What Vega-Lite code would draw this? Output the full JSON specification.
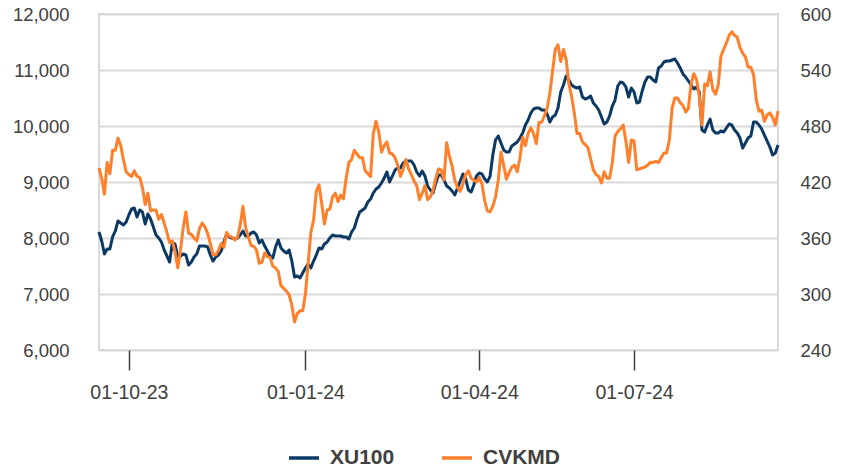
{
  "$schema": "https://vega.github.io/schema/vega-lite/v6.json",
  "width": 679,
  "height": 336,
  "autosize": {"type": "none"},
  "padding": {"left": 99, "top": 14, "right": 63, "bottom": 119},
  "background": "white",
  "config": {
    "font": "Liberation Sans",
    "view": {"stroke": "#d9d9d9", "strokeWidth": 2},
    "axis": {"labelFont": "Liberation Sans", "labelFontSize": 18.5, "labelColor": "#404040", "title": null},
    "legend": {"labelFont": "Liberation Sans", "padding": 0}
  },
  "data": {"values": [
    {"d":"2023-09-15","xu":8107,"cv":435},{"d":"2023-09-18","xu":7946,"cv":424},{"d":"2023-09-19","xu":7714,"cv":407},{"d":"2023-09-20","xu":7804,"cv":441},{"d":"2023-09-21","xu":7804,"cv":429},{"d":"2023-09-22","xu":8018,"cv":454},{"d":"2023-09-25","xu":8125,"cv":454},{"d":"2023-09-26","xu":8304,"cv":467},{"d":"2023-09-27","xu":8268,"cv":459},{"d":"2023-09-28","xu":8232,"cv":444},{"d":"2023-09-29","xu":8286,"cv":431},
    {"d":"2023-10-02","xu":8411,"cv":428},{"d":"2023-10-03","xu":8518,"cv":426},{"d":"2023-10-04","xu":8536,"cv":432},{"d":"2023-10-05","xu":8375,"cv":426},{"d":"2023-10-06","xu":8500,"cv":425},{"d":"2023-10-09","xu":8464,"cv":414},{"d":"2023-10-10","xu":8250,"cv":396},{"d":"2023-10-11","xu":8429,"cv":408},{"d":"2023-10-12","xu":8339,"cv":389},{"d":"2023-10-13","xu":8196,"cv":390},{"d":"2023-10-16","xu":8054,"cv":390},{"d":"2023-10-17","xu":8000,"cv":380},{"d":"2023-10-18","xu":7929,"cv":385},{"d":"2023-10-19","xu":7786,"cv":376},{"d":"2023-10-20","xu":7679,"cv":366},{"d":"2023-10-23","xu":7571,"cv":355},{"d":"2023-10-24","xu":7911,"cv":357},{"d":"2023-10-25","xu":7893,"cv":345},{"d":"2023-10-26","xu":7661,"cv":328},{"d":"2023-10-27","xu":7679,"cv":347},{"d":"2023-10-30","xu":7714,"cv":371},{"d":"2023-10-31","xu":7696,"cv":388},
    {"d":"2023-11-01","xu":7518,"cv":365},{"d":"2023-11-02","xu":7571,"cv":364},{"d":"2023-11-03","xu":7661,"cv":360},{"d":"2023-11-06","xu":7714,"cv":357},{"d":"2023-11-07","xu":7857,"cv":370},{"d":"2023-11-08","xu":7857,"cv":376},{"d":"2023-11-09","xu":7857,"cv":372},{"d":"2023-11-10","xu":7839,"cv":365},{"d":"2023-11-13","xu":7696,"cv":354},{"d":"2023-11-14","xu":7589,"cv":342},{"d":"2023-11-15","xu":7661,"cv":342},{"d":"2023-11-16","xu":7696,"cv":347},{"d":"2023-11-17","xu":7768,"cv":354},{"d":"2023-11-20","xu":7929,"cv":350},{"d":"2023-11-21","xu":8071,"cv":366},{"d":"2023-11-22","xu":8018,"cv":362},{"d":"2023-11-23","xu":8000,"cv":361},{"d":"2023-11-24","xu":7982,"cv":358},{"d":"2023-11-27","xu":8000,"cv":361},{"d":"2023-11-28","xu":8054,"cv":374},{"d":"2023-11-29","xu":8125,"cv":394},{"d":"2023-11-30","xu":8036,"cv":371},
    {"d":"2023-12-01","xu":8036,"cv":361},{"d":"2023-12-04","xu":8089,"cv":352},{"d":"2023-12-05","xu":8107,"cv":351},{"d":"2023-12-06","xu":8054,"cv":347},{"d":"2023-12-07","xu":7911,"cv":333},{"d":"2023-12-08","xu":7964,"cv":334},{"d":"2023-12-11","xu":7857,"cv":344},{"d":"2023-12-12","xu":7768,"cv":340},{"d":"2023-12-13","xu":7679,"cv":339},{"d":"2023-12-14","xu":7643,"cv":330},{"d":"2023-12-15","xu":7839,"cv":328},{"d":"2023-12-18","xu":7964,"cv":324},{"d":"2023-12-19","xu":7821,"cv":309},{"d":"2023-12-20","xu":7768,"cv":306},{"d":"2023-12-21","xu":7732,"cv":303},{"d":"2023-12-22","xu":7786,"cv":299},{"d":"2023-12-25","xu":7589,"cv":288},{"d":"2023-12-26","xu":7304,"cv":270},{"d":"2023-12-27","xu":7321,"cv":279},{"d":"2023-12-28","xu":7286,"cv":282},{"d":"2023-12-29","xu":7375,"cv":282},
    {"d":"2024-01-02","xu":7464,"cv":300},{"d":"2024-01-03","xu":7536,"cv":333},{"d":"2024-01-04","xu":7464,"cv":366},{"d":"2024-01-05","xu":7589,"cv":379},{"d":"2024-01-08","xu":7696,"cv":410},{"d":"2024-01-09","xu":7821,"cv":417},{"d":"2024-01-10","xu":7804,"cv":397},{"d":"2024-01-11","xu":7893,"cv":375},{"d":"2024-01-12","xu":7929,"cv":390},{"d":"2024-01-15","xu":8000,"cv":391},{"d":"2024-01-16","xu":8054,"cv":404},{"d":"2024-01-17","xu":8036,"cv":408},{"d":"2024-01-18","xu":8036,"cv":399},{"d":"2024-01-19","xu":8036,"cv":406},{"d":"2024-01-22","xu":8018,"cv":402},{"d":"2024-01-23","xu":8018,"cv":424},{"d":"2024-01-24","xu":7982,"cv":441},{"d":"2024-01-25","xu":8107,"cv":444},{"d":"2024-01-26","xu":8179,"cv":454},{"d":"2024-01-29","xu":8339,"cv":450},{"d":"2024-01-30","xu":8464,"cv":446},{"d":"2024-01-31","xu":8500,"cv":446},
    {"d":"2024-02-01","xu":8536,"cv":432},{"d":"2024-02-02","xu":8643,"cv":429},{"d":"2024-02-05","xu":8696,"cv":426},{"d":"2024-02-06","xu":8804,"cv":472},{"d":"2024-02-07","xu":8875,"cv":485},{"d":"2024-02-08","xu":8911,"cv":474},{"d":"2024-02-09","xu":8982,"cv":452},{"d":"2024-02-12","xu":9071,"cv":459},{"d":"2024-02-13","xu":9179,"cv":463},{"d":"2024-02-14","xu":9000,"cv":451},{"d":"2024-02-15","xu":9107,"cv":450},{"d":"2024-02-16","xu":9214,"cv":446},{"d":"2024-02-19","xu":9250,"cv":438},{"d":"2024-02-20","xu":9250,"cv":426},{"d":"2024-02-21","xu":9339,"cv":434},{"d":"2024-02-22","xu":9375,"cv":444},{"d":"2024-02-23","xu":9375,"cv":434},{"d":"2024-02-26","xu":9375,"cv":428},{"d":"2024-02-27","xu":9304,"cv":421},{"d":"2024-02-28","xu":9179,"cv":416},{"d":"2024-02-29","xu":9107,"cv":401},
    {"d":"2024-03-01","xu":9196,"cv":408},{"d":"2024-03-04","xu":9107,"cv":416},{"d":"2024-03-05","xu":8929,"cv":401},{"d":"2024-03-06","xu":8857,"cv":404},{"d":"2024-03-07","xu":8804,"cv":411},{"d":"2024-03-08","xu":8982,"cv":424},{"d":"2024-03-11","xu":9125,"cv":434},{"d":"2024-03-12","xu":9125,"cv":433},{"d":"2024-03-13","xu":9036,"cv":422},{"d":"2024-03-14","xu":8929,"cv":462},{"d":"2024-03-15","xu":8893,"cv":448},{"d":"2024-03-18","xu":8839,"cv":437},{"d":"2024-03-19","xu":8768,"cv":422},{"d":"2024-03-20","xu":8893,"cv":414},{"d":"2024-03-21","xu":9018,"cv":410},{"d":"2024-03-22","xu":9143,"cv":418},{"d":"2024-03-25","xu":9054,"cv":428},{"d":"2024-03-26","xu":8857,"cv":432},{"d":"2024-03-27","xu":8821,"cv":424},{"d":"2024-03-28","xu":8946,"cv":422},{"d":"2024-03-29","xu":9107,"cv":420},
    {"d":"2024-04-01","xu":9161,"cv":425},{"d":"2024-04-02","xu":9143,"cv":418},{"d":"2024-04-03","xu":9054,"cv":400},{"d":"2024-04-04","xu":9000,"cv":389},{"d":"2024-04-05","xu":9107,"cv":388},{"d":"2024-04-08","xu":9482,"cv":394},{"d":"2024-04-09","xu":9750,"cv":404},{"d":"2024-04-15","xu":9821,"cv":422},{"d":"2024-04-16","xu":9696,"cv":452},{"d":"2024-04-17","xu":9571,"cv":438},{"d":"2024-04-18","xu":9536,"cv":423},{"d":"2024-04-19","xu":9536,"cv":430},{"d":"2024-04-22","xu":9643,"cv":436},{"d":"2024-04-24","xu":9679,"cv":438},{"d":"2024-04-25","xu":9714,"cv":431},{"d":"2024-04-26","xu":9786,"cv":446},{"d":"2024-04-29","xu":9875,"cv":468},{"d":"2024-04-30","xu":10018,"cv":459},
    {"d":"2024-05-02","xu":10107,"cv":472},{"d":"2024-05-03","xu":10232,"cv":478},{"d":"2024-05-06","xu":10304,"cv":472},{"d":"2024-05-07","xu":10321,"cv":461},{"d":"2024-05-08","xu":10321,"cv":484},{"d":"2024-05-09","xu":10286,"cv":484},{"d":"2024-05-10","xu":10286,"cv":491},{"d":"2024-05-13","xu":10214,"cv":499},{"d":"2024-05-14","xu":10071,"cv":515},{"d":"2024-05-15","xu":10161,"cv":539},{"d":"2024-05-16","xu":10196,"cv":562},{"d":"2024-05-17","xu":10321,"cv":567},{"d":"2024-05-20","xu":10607,"cv":549},{"d":"2024-05-21","xu":10732,"cv":562},{"d":"2024-05-22","xu":10893,"cv":551},{"d":"2024-05-23","xu":10821,"cv":525},{"d":"2024-05-24","xu":10732,"cv":512},{"d":"2024-05-27","xu":10696,"cv":494},{"d":"2024-05-28","xu":10679,"cv":472},{"d":"2024-05-29","xu":10696,"cv":472},{"d":"2024-05-30","xu":10518,"cv":463},{"d":"2024-05-31","xu":10482,"cv":460},
    {"d":"2024-06-03","xu":10500,"cv":457},{"d":"2024-06-04","xu":10536,"cv":445},{"d":"2024-06-05","xu":10411,"cv":433},{"d":"2024-06-06","xu":10357,"cv":428},{"d":"2024-06-07","xu":10286,"cv":426},{"d":"2024-06-10","xu":10161,"cv":419},{"d":"2024-06-11","xu":10036,"cv":431},{"d":"2024-06-12","xu":10071,"cv":424},{"d":"2024-06-13","xu":10179,"cv":424},{"d":"2024-06-14","xu":10357,"cv":441},{"d":"2024-06-20","xu":10464,"cv":469},{"d":"2024-06-21","xu":10714,"cv":474},{"d":"2024-06-24","xu":10786,"cv":477},{"d":"2024-06-25","xu":10768,"cv":481},{"d":"2024-06-26","xu":10696,"cv":464},{"d":"2024-06-27","xu":10518,"cv":441},{"d":"2024-06-28","xu":10679,"cv":465},
    {"d":"2024-07-01","xu":10607,"cv":464},{"d":"2024-07-02","xu":10411,"cv":433},{"d":"2024-07-03","xu":10429,"cv":434},{"d":"2024-07-04","xu":10625,"cv":435},{"d":"2024-07-05","xu":10786,"cv":436},{"d":"2024-07-08","xu":10875,"cv":438},{"d":"2024-07-09","xu":10875,"cv":441},{"d":"2024-07-10","xu":10821,"cv":441},{"d":"2024-07-11","xu":10786,"cv":442},{"d":"2024-07-12","xu":11036,"cv":441},{"d":"2024-07-16","xu":11071,"cv":446},{"d":"2024-07-17","xu":11143,"cv":451},{"d":"2024-07-18","xu":11161,"cv":451},{"d":"2024-07-19","xu":11161,"cv":465},{"d":"2024-07-22","xu":11179,"cv":499},{"d":"2024-07-23","xu":11196,"cv":510},{"d":"2024-07-24","xu":11125,"cv":510},{"d":"2024-07-25","xu":11036,"cv":505},{"d":"2024-07-26","xu":10929,"cv":502},{"d":"2024-07-29","xu":10875,"cv":495},{"d":"2024-07-30","xu":10804,"cv":499},{"d":"2024-07-31","xu":10732,"cv":525},
    {"d":"2024-08-01","xu":10661,"cv":536},{"d":"2024-08-02","xu":10696,"cv":530},{"d":"2024-08-05","xu":10607,"cv":512},{"d":"2024-08-06","xu":9929,"cv":481},{"d":"2024-08-07","xu":9893,"cv":525},{"d":"2024-08-08","xu":10018,"cv":523},{"d":"2024-08-09","xu":10125,"cv":538},{"d":"2024-08-12","xu":9929,"cv":519},{"d":"2024-08-13","xu":9875,"cv":514},{"d":"2024-08-14","xu":9875,"cv":524},{"d":"2024-08-15","xu":9911,"cv":555},{"d":"2024-08-16","xu":9893,"cv":562},{"d":"2024-08-19","xu":9964,"cv":569},{"d":"2024-08-20","xu":10036,"cv":577},{"d":"2024-08-21","xu":10018,"cv":581},{"d":"2024-08-22","xu":9929,"cv":577},{"d":"2024-08-23","xu":9875,"cv":575},{"d":"2024-08-26","xu":9786,"cv":564},{"d":"2024-08-27","xu":9607,"cv":558},{"d":"2024-08-28","xu":9696,"cv":554},{"d":"2024-08-29","xu":9786,"cv":543},
    {"d":"2024-09-02","xu":9821,"cv":543},{"d":"2024-09-03","xu":10071,"cv":535},{"d":"2024-09-04","xu":10071,"cv":508},{"d":"2024-09-05","xu":10018,"cv":496},{"d":"2024-09-06","xu":9946,"cv":497},{"d":"2024-09-09","xu":9839,"cv":485},{"d":"2024-09-10","xu":9732,"cv":492},{"d":"2024-09-11","xu":9625,"cv":494},{"d":"2024-09-12","xu":9482,"cv":489},{"d":"2024-09-13","xu":9518,"cv":481},{"d":"2024-09-16","xu":9661,"cv":496}
  ]},
  "encoding": {
    "x": {
      "field": "d", "type": "ordinal", "sort": "ascending",
      "scale": {"type": "point", "padding": 0},
      "axis": {
        "values": ["2023-10-02", "2024-01-02", "2024-04-01", "2024-07-01"],
        "labelExpr": "datum.value == '2023-10-02' ? '01-10-23' : datum.value == '2024-01-02' ? '01-01-24' : datum.value == '2024-04-01' ? '01-04-24' : '01-07-24'",
        "labelAngle": 0, "domain": false, "grid": false, "labelFontSize": 19.5,
        "ticks": true, "tickSize": 20, "tickWidth": 1.5, "tickColor": "#404040",
        "labelPadding": 13, "labelBaseline": "top"
      }
    }
  },
  "layer": [
    {
      "mark": {"type": "line", "strokeWidth": 3, "strokeJoin": "round"},
      "encoding": {
        "y": {
          "field": "xu", "type": "quantitative",
          "scale": {"domain": [6000, 12000], "nice": false, "zero": false},
          "axis": {
            "orient": "left", "values": [6000, 7000, 8000, 9000, 10000, 11000, 12000], "format": ",.0f",
            "domain": false, "ticks": false, "tickSize": 0, "labelPadding": 30,
            "grid": true, "gridColor": "#d9d9d9", "gridWidth": 2
          }
        },
        "color": {
          "datum": "XU100", "type": "nominal",
          "scale": {"domain": ["XU100", "CVKMD"], "range": ["#0b3964", "#ff7f2a"]},
          "legend": {
            "title": null, "orient": "none", "direction": "horizontal",
            "legendX": 188, "legendY": 427,
            "symbolType": "stroke", "symbolSize": 900, "symbolStrokeWidth": 3.5,
            "labelFontSize": 21, "labelFontWeight": "bold", "labelColor": "#404040",
            "labelOffset": 9, "columnPadding": 40
          }
        }
      }
    },
    {
      "mark": {"type": "line", "strokeWidth": 3, "strokeJoin": "round"},
      "encoding": {
        "y": {
          "field": "cv", "type": "quantitative",
          "scale": {"domain": [240, 600], "nice": false, "zero": false},
          "axis": {
            "orient": "right", "values": [240, 300, 360, 420, 480, 540, 600],
            "domain": false, "ticks": false, "tickSize": 0, "labelPadding": 22, "grid": false
          }
        },
        "color": {"datum": "CVKMD", "type": "nominal"}
      }
    }
  ],
  "resolve": {"scale": {"y": "independent"}}
}
